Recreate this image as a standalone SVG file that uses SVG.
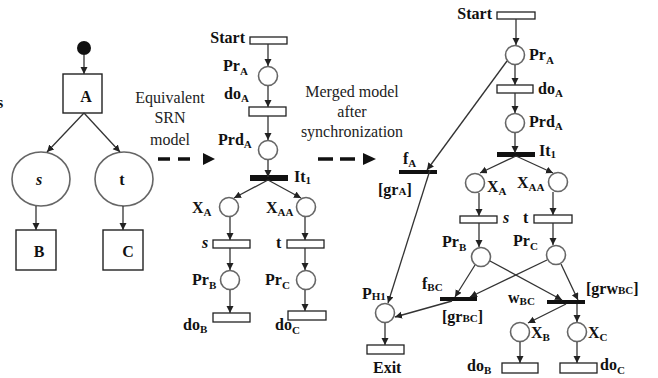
<svg xmlns="http://www.w3.org/2000/svg" width="658" height="378" viewBox="0 0 658 378">
<defs>
<marker id="ah" markerUnits="userSpaceOnUse" markerWidth="8" markerHeight="8" refX="7" refY="3.5" orient="auto">
<path d="M0,0 L7,3.5 L0,7 z" fill="#222"/>
</marker>
<style>
.bg{fill:#fff}
.pl{fill:#fff;stroke:#666;stroke-width:1.6}
.tr{fill:#fff;stroke:#222;stroke-width:1.3}
.bar{fill:#111}
.box{fill:#fff;stroke:#222;stroke-width:1.4}
.ed{stroke:#333;stroke-width:1.3;fill:none;marker-end:url(#ah)}
.dash{stroke:#111;stroke-width:3.5;fill:none}
.lb{font-weight:bold;font-size:16px;fill:#111}
.sb{font-size:11px}
.it{font-style:italic}
.nt{font-size:16px;fill:#222}
</style>
</defs>
<rect class="bg" x="0" y="0" width="658" height="378"/>
<g font-family="Liberation Serif, Tinos, Times New Roman, DejaVu Serif, serif">

<!-- Left: activity diagram -->
<g id="left-start"><circle cx="84" cy="48" r="7" fill="#111"/></g>
<g id="left-A"><rect class="box" x="63" y="74" width="39" height="39"/><text class="lb" x="86" y="102" text-anchor="middle">A</text></g>
<g id="left-s"><ellipse class="pl" cx="41" cy="179" rx="29" ry="27"/><text class="lb it" x="39" y="185" text-anchor="middle">s</text></g>
<g id="left-t"><ellipse class="pl" cx="124" cy="179" rx="29" ry="27"/><text class="lb" x="122" y="185" text-anchor="middle">t</text></g>
<g id="left-B"><rect class="box" x="16" y="230" width="40" height="40"/><text class="lb" x="39" y="257" text-anchor="middle">B</text></g>
<g id="left-C"><rect class="box" x="103" y="230" width="40" height="40"/><text class="lb" x="128" y="257" text-anchor="middle">C</text></g>
<text class="lb" x="-3" y="108">s</text>

<!-- Middle SRN nodes -->
<g id="m-start"><rect class="tr" x="250" y="37" width="37" height="7"/><text class="lb" x="245" y="43" text-anchor="end">Start</text></g>
<g id="m-PrA"><circle class="pl" cx="268" cy="76" r="9.5"/><text class="lb" x="223" y="71">Pr<tspan class="sb" dy="4">A</tspan></text></g>
<g id="m-doA"><rect class="tr" x="249" y="107" width="37" height="9"/><text class="lb" x="224" y="99">do<tspan class="sb" dy="3">A</tspan></text></g>
<g id="m-PrdA"><circle class="pl" cx="268" cy="150" r="9.5"/><text class="lb" x="218" y="145">Prd<tspan class="sb" dy="3">A</tspan></text></g>
<g id="m-It1"><rect class="bar" x="250" y="175" width="38" height="6"/><text class="lb" x="294" y="182">It<tspan class="sb" dy="2">1</tspan></text></g>
<g id="m-XA"><circle class="pl" cx="229" cy="207" r="9.5"/><text class="lb" x="192" y="213">X<tspan class="sb" dy="3">A</tspan></text></g>
<g id="m-XAA"><circle class="pl" cx="306" cy="207" r="9.5"/><text class="lb" x="266" y="213">X<tspan class="sb" dy="3">AA</tspan></text></g>
<g id="m-s"><rect class="tr" x="213" y="240" width="37" height="8"/><text class="lb it" x="202" y="248">s</text></g>
<g id="m-t"><rect class="tr" x="287" y="240" width="37" height="8"/><text class="lb" x="276" y="248">t</text></g>
<g id="m-PrB"><circle class="pl" cx="230" cy="280" r="9.5"/><text class="lb" x="192" y="285">Pr<tspan class="sb" dy="4">B</tspan></text></g>
<g id="m-PrC"><circle class="pl" cx="306" cy="280" r="9.5"/><text class="lb" x="265" y="285">Pr<tspan class="sb" dy="4">C</tspan></text></g>
<g id="m-doB"><rect class="tr" x="213" y="313" width="37" height="9"/><text class="lb" x="183" y="330">do<tspan class="sb" dy="3">B</tspan></text></g>
<g id="m-doC"><rect class="tr" x="288" y="311" width="38" height="9"/><text class="lb" x="275" y="330">do<tspan class="sb" dy="4">C</tspan></text></g>

<!-- Right merged model nodes -->
<g id="r-start"><rect class="tr" x="497" y="12" width="38" height="7"/><text class="lb" x="492" y="19" text-anchor="end">Start</text></g>
<g id="r-PrA"><circle class="pl" cx="515" cy="55" r="9.5"/><text class="lb" x="529" y="60">Pr<tspan class="sb" dy="4">A</tspan></text></g>
<g id="r-doA"><rect class="tr" x="497" y="85" width="36" height="8"/><text class="lb" x="538" y="94">do<tspan class="sb" dy="3">A</tspan></text></g>
<g id="r-PrdA"><circle class="pl" cx="515" cy="123" r="9.5"/><text class="lb" x="529" y="127">Prd<tspan class="sb" dy="3">A</tspan></text></g>
<g id="r-It1"><rect class="bar" x="497" y="152" width="38" height="5"/><text class="lb" x="539" y="156">It<tspan class="sb" dy="2">1</tspan></text></g>
<g id="r-fA"><rect class="bar" x="399" y="170" width="38" height="4"/><text class="lb" x="403" y="164">f<tspan class="sb" dy="3">A</tspan></text><text class="lb" x="378" y="195">[gr<tspan class="sb">A</tspan>]</text></g>
<g id="r-XA"><circle class="pl" cx="475" cy="183" r="9.5"/><text class="lb" x="487" y="192">X<tspan class="sb" dy="3">A</tspan></text></g>
<g id="r-XAA"><circle class="pl" cx="558" cy="182" r="9.5"/><text class="lb" x="517" y="188">X<tspan class="sb" dy="3">AA</tspan></text></g>
<g id="r-s"><rect class="tr" x="460" y="216" width="37" height="7"/><text class="lb it" x="503" y="223">s</text></g>
<g id="r-t"><rect class="tr" x="534" y="215" width="38" height="8"/><text class="lb" x="523" y="223">t</text></g>
<g id="r-PrB"><circle class="pl" cx="481" cy="257" r="9.5"/><text class="lb" x="442" y="247">Pr<tspan class="sb" dy="4">B</tspan></text></g>
<g id="r-PrC"><circle class="pl" cx="556" cy="255" r="9.5"/><text class="lb" x="513" y="246">Pr<tspan class="sb" dy="4">C</tspan></text></g>
<g id="r-fBC"><rect class="bar" x="440" y="297" width="37" height="4"/><text class="lb" x="422" y="289">f<tspan class="sb" dy="2">BC</tspan></text><text class="lb" x="442" y="322">[gr<tspan class="sb">BC</tspan>]</text></g>
<g id="r-wBC"><rect class="bar" x="547" y="300" width="38" height="4"/><text class="lb" x="508" y="303">w<tspan class="sb" dy="2">BC</tspan></text><text class="lb" x="586" y="294">[grw<tspan class="sb">BC</tspan>]</text></g>
<g id="r-PH1"><circle class="pl" cx="385" cy="313" r="9.5"/><text class="lb" x="362" y="299">P<tspan class="sb" dy="1">H1</tspan></text></g>
<g id="r-exit"><rect class="tr" x="367" y="345" width="37" height="9"/><text class="lb" x="373" y="373">Exit</text></g>
<g id="r-XB"><circle class="pl" cx="520" cy="332" r="9.5"/><text class="lb" x="531" y="338">X<tspan class="sb" dy="3">B</tspan></text></g>
<g id="r-XC"><circle class="pl" cx="577" cy="332" r="9.5"/><text class="lb" x="588" y="338">X<tspan class="sb" dy="3">C</tspan></text></g>
<g id="r-doB"><rect class="tr" x="502" y="363" width="36" height="10"/><text class="lb" x="467" y="371">do<tspan class="sb" dy="3">B</tspan></text></g>
<g id="r-doC"><rect class="tr" x="560" y="363" width="37" height="10"/><text class="lb" x="600" y="370">do<tspan class="sb" dy="4">C</tspan></text></g>

<!-- Annotations -->
<g id="note1"><text class="nt" text-anchor="middle"><tspan x="170" y="103">Equivalent</tspan><tspan x="170" y="123">SRN</tspan><tspan x="170" y="145">model</tspan></text></g>
<g id="note2"><text class="nt" text-anchor="middle"><tspan x="352" y="97">Merged model</tspan><tspan x="352" y="117">after</tspan><tspan x="352" y="137">synchronization</tspan></text></g>
</g>

<!-- Connectors -->
<g id="connectors">
<line class="ed" x1="84" y1="55" x2="84" y2="74"/>
<line class="ed" x1="84" y1="113" x2="47" y2="152"/>
<line class="ed" x1="84" y1="113" x2="120" y2="152"/>
<line class="ed" x1="36" y1="206" x2="36" y2="230"/>
<line class="ed" x1="123" y1="206" x2="123" y2="230"/>

<line class="dash" x1="158" y1="159" x2="191" y2="159" stroke-dasharray="12,8"/>
<path d="M203,153 L215,159 L203,165 z" fill="#111"/>
<line class="dash" x1="318" y1="159" x2="356" y2="159" stroke-dasharray="15,7"/>
<path d="M363,153 L376,159 L363,165 z" fill="#111"/>

<line class="ed" x1="268" y1="44" x2="268" y2="66"/>
<line class="ed" x1="268" y1="86" x2="268" y2="107"/>
<line class="ed" x1="268" y1="116" x2="268" y2="140"/>
<line class="ed" x1="268" y1="160" x2="268" y2="177"/>
<line class="ed" x1="268" y1="180" x2="234" y2="198"/>
<line class="ed" x1="268" y1="180" x2="301" y2="198"/>
<line class="ed" x1="230" y1="217" x2="230" y2="240"/>
<line class="ed" x1="305" y1="217" x2="305" y2="240"/>
<line class="ed" x1="230" y1="248" x2="230" y2="270"/>
<line class="ed" x1="305" y1="248" x2="305" y2="270"/>
<line class="ed" x1="230" y1="290" x2="230" y2="313"/>
<line class="ed" x1="305" y1="290" x2="305" y2="311"/>

<line class="ed" x1="516" y1="19" x2="516" y2="45"/>
<line class="ed" x1="515" y1="65" x2="515" y2="85"/>
<line class="ed" x1="515" y1="93" x2="515" y2="113"/>
<line class="ed" x1="515" y1="133" x2="515" y2="153"/>
<line class="ed" x1="516" y1="156" x2="480" y2="173"/>
<line class="ed" x1="516" y1="156" x2="553" y2="173"/>
<line class="ed" x1="479" y1="193" x2="479" y2="216"/>
<line class="ed" x1="553" y1="192" x2="553" y2="215"/>
<line class="ed" x1="479" y1="223" x2="479" y2="247"/>
<line class="ed" x1="553" y1="223" x2="553" y2="245"/>
<line class="ed" x1="507" y1="61" x2="427" y2="170"/>
<line class="ed" x1="430" y1="170" x2="388" y2="303"/>
<line class="ed" x1="475" y1="265" x2="455" y2="297"/>
<line class="ed" x1="547" y1="260" x2="470" y2="297"/>
<line class="ed" x1="490" y1="261" x2="562" y2="300"/>
<line class="ed" x1="561" y1="264" x2="578" y2="300"/>
<line class="ed" x1="452" y1="301" x2="395" y2="317"/>
<line class="ed" x1="385" y1="323" x2="385" y2="345"/>
<line class="ed" x1="566" y1="304" x2="528" y2="323"/>
<line class="ed" x1="577" y1="304" x2="577" y2="322"/>
<line class="ed" x1="520" y1="342" x2="520" y2="363"/>
<line class="ed" x1="577" y1="342" x2="577" y2="363"/>
</g>
</svg>
